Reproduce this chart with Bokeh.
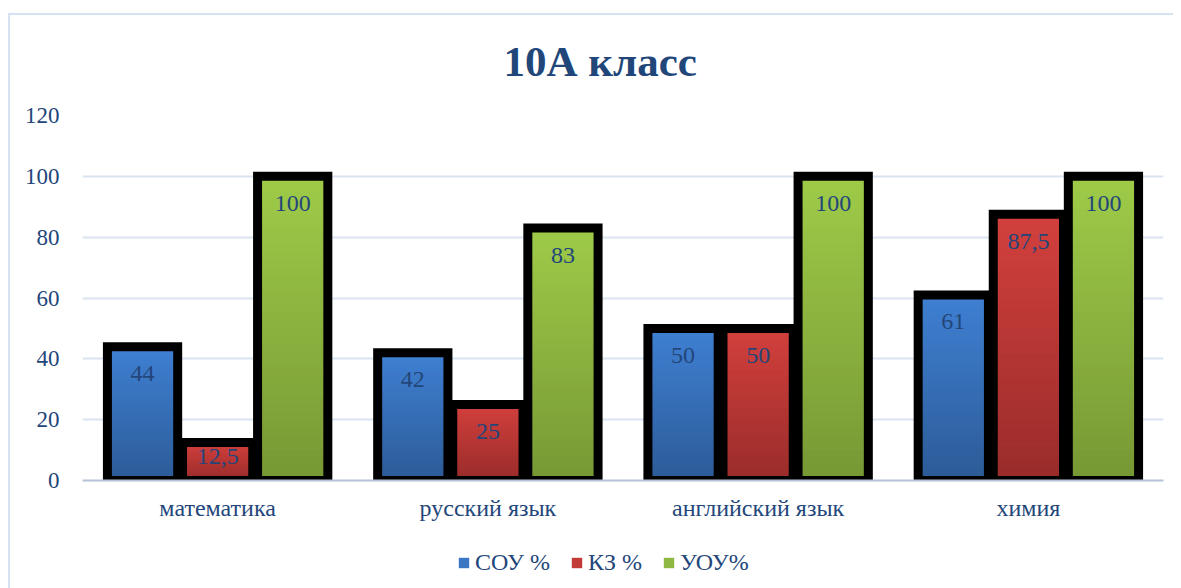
import numpy as np
from bokeh.plotting import figure
from bokeh.layouts import column
from bokeh.models import ColumnDataSource, FactorRange, FixedTicker, Legend, LegendItem, Title
from bokeh.transform import dodge
from bokeh.core.properties import value
from bokeh.embed import file_html
from bokeh.resources import INLINE

categories = ["математика", "русский язык", "английский язык", "химия"]
series_names = ["СОУ %", "КЗ %", "УОУ%"]
sou = [44, 42, 50, 61]
kz = [12.5, 25, 50, 87.5]
uou = [100, 83, 100, 100]
y_ticks = [0, 20, 40, 60, 80, 100, 120]

top_colors = ["#3f80d3", "#d3403d", "#9fcb48"]
bottom_colors = ["#2c5b97", "#982c2a", "#769834"]
legend_colors = ["#3a76c4", "#c23a37", "#8fb843"]

TEXT = "#23467a"
FONT = "Liberation Serif"
N_SLICES = 40
OFFSETS = [-0.2778, 0.0, 0.2778]
BAR_W = 0.26
FRAME_H = 365
Y_MAX = 120
BORDER = "#d6e1f1"
TOTAL_W = 82 + 1081 + 10


def fmt(v):
    s = ("%g" % v)
    return s.replace(".", ",")


def hex_to_rgb(h):
    h = h.lstrip("#")
    return np.array([int(h[i:i + 2], 16) for i in (0, 2, 4)], dtype=float)


def mix(c0, c1, t):
    a, b = hex_to_rgb(c0), hex_to_rgb(c1)
    c = a + (b - a) * t
    return "#%02x%02x%02x" % tuple(int(round(x)) for x in c)


p = figure(
    x_range=FactorRange(factors=categories, range_padding=0),
    y_range=(0, Y_MAX),
    frame_width=1081, frame_height=FRAME_H,
    output_backend="svg", toolbar_location=None,
    min_border_left=82, min_border_right=10,
    min_border_top=115, min_border_bottom=40,
)
# light chart-area border (top and left edges)
p.styles = {
    "background": (f"linear-gradient({BORDER},{BORDER}) 8px 13px / 100% 2px no-repeat, "
                   f"linear-gradient({BORDER},{BORDER}) 8px 13px / 2px 100% no-repeat"),
}
p.border_fill_color = None
p.background_fill_color = None

p.title = Title(text="10А класс", align="left", offset=421, vertical_align="middle",
                standoff=60, text_font=FONT, text_font_size="43px",
                text_font_style="bold", text_color="#214679")

p.outline_line_color = None
p.xgrid.grid_line_color = None
p.ygrid.grid_line_color = "#d9e3f2"
p.ygrid.grid_line_width = 2
p.yaxis.ticker = FixedTicker(ticks=y_ticks)
p.yaxis.axis_line_color = None
p.yaxis.major_tick_line_color = None
p.yaxis.minor_tick_line_color = None
p.yaxis.major_label_text_font = FONT
p.yaxis.major_label_text_font_size = "23px"
p.yaxis.major_label_text_color = TEXT
p.yaxis.major_label_standoff = 17

p.xaxis.axis_line_color = "#b5c2d6"
p.xaxis.axis_line_width = 2
p.xaxis.major_tick_line_color = None
p.xaxis.minor_tick_line_color = None
p.xaxis.major_label_text_font = FONT
p.xaxis.major_label_text_font_size = "24px"
p.xaxis.major_label_text_color = TEXT
p.xaxis.major_label_standoff = 8

all_series = [sou, kz, uou]
for vals, off, ctop, cbot, cleg in zip(all_series, OFFSETS, top_colors, bottom_colors, legend_colors):
    xs = dodge("cat", off, range=p.x_range)
    base_src = ColumnDataSource(dict(cat=categories, top=vals))
    p.vbar(x=xs, top="top", width=BAR_W, source=base_src, fill_color=cleg, line_color=None)

    # gradient: nested bars, tallest (lightest) drawn first
    cats, tops, cols = [], [], []
    for c, v in zip(categories, vals):
        edges = np.linspace(0, v, N_SLICES + 1)[1:]
        for k in range(N_SLICES - 1, -1, -1):
            t = (k + 0.5) / N_SLICES
            cats.append(c)
            tops.append(edges[k])
            cols.append(mix(cbot, ctop, t))
    sl_src = ColumnDataSource(dict(cat=cats, top=tops, col=cols))
    p.vbar(x=dodge("cat", off, range=p.x_range), top="top", width=BAR_W,
           source=sl_src, fill_color="col", line_color=None)

for vals, off in zip(all_series, OFFSETS):
    src = ColumnDataSource(dict(cat=categories, top=vals))
    p.vbar(x=dodge("cat", off, range=p.x_range), top="top", width=BAR_W,
           source=src, fill_color=None, line_color="black", line_width=9,
           line_join="miter")

px_per_unit = FRAME_H / Y_MAX
for vals, off in zip(all_series, OFFSETS):
    # label sits near the inner top of the bar, pushed up when the bar is short
    yoff = [min(27.0, v * px_per_unit - 24.0) for v in vals]
    src = ColumnDataSource(dict(cat=categories, top=vals, lab=[fmt(v) for v in vals], yoff=yoff))
    p.text(x=dodge("cat", off, range=p.x_range), y="top", text="lab", source=src,
           text_align="center", text_baseline="middle", y_offset="yoff",
           text_font=value(FONT), text_font_size="24px", text_color=TEXT)

# legend strip below the chart
lg = figure(width=TOTAL_W, height=68, x_range=(0, 1), y_range=(0, 1),
            output_backend="svg", toolbar_location=None,
            x_axis_location=None, y_axis_location=None, min_border=0)
lg.styles = {"background": f"linear-gradient({BORDER},{BORDER}) 8px 0px / 2px 100% no-repeat"}
lg.border_fill_color = None
lg.background_fill_color = None
lg.outline_line_color = None
lg.xgrid.visible = False
lg.ygrid.visible = False
# zero-height swatch glyphs: only their legend squares are visible
swatches = [lg.vbar(x=[0.5], top=[0], bottom=[0], width=0.01, fill_color=c, line_color=None)
            for c in legend_colors]

legend = Legend(
    items=[LegendItem(label=n, renderers=[r]) for n, r in zip(series_names, swatches)],
    orientation="horizontal", location=(375, 15),
    label_text_font=FONT, label_text_font_size="24px", label_text_color=TEXT,
    glyph_width=13, glyph_height=13, label_standoff=5, spacing=20,
    padding=0, margin=0, border_line_color=None, background_fill_alpha=0,
)
lg.add_layout(legend, "center")

layout = column(p, lg, spacing=0)
open("out.html", "w").write(file_html(layout, INLINE))
